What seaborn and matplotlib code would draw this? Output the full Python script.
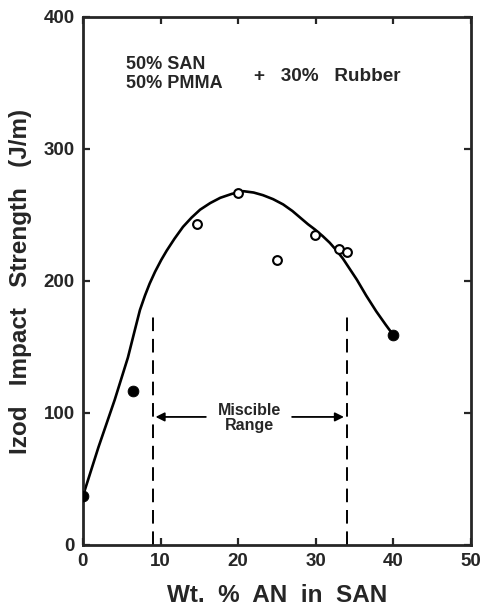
import matplotlib
matplotlib.use("Agg")
import matplotlib.pyplot as plt
import seaborn as sns
import pandas as pd

# Measured points
filled_x = [0, 6.4, 40.0]
filled_y = [37, 117, 159]
open_x = [14.7, 20.0, 25.0, 29.9, 33.0, 34.0]
open_y = [243, 267, 216, 235, 224, 222]

# Fitted curve
curve_x = [0, 2.0, 4.1, 5.8, 6.7, 7.35, 8.0, 8.6, 9.3, 10.1, 10.8, 11.8, 12.9, 14.0, 15.1,
           16.4, 17.7, 19.2, 20.7, 22.0, 23.2, 24.5, 25.8, 27.0, 28.0, 29.0, 29.9,
           30.9, 31.8, 32.7, 33.5, 34.4, 35.3, 36.5, 37.8, 39.0, 40.0]
curve_y = [37, 74, 110, 142, 163, 178, 189, 198, 207, 216, 223, 232, 241, 248, 254,
           259, 263, 266, 268, 267, 265, 262, 258, 253, 248, 243, 239,
           234, 229, 223, 217, 209, 201, 189, 177, 167, 159]

# Miscible range boundaries
misc_bounds = [9, 34]
misc_top = 178
arrow_y = 97

xticks = [0, 10, 20, 30, 40, 50]
yticks = [0, 100, 200, 300, 400]

sns.set_style("ticks")
plt.rcParams['font.family'] = ['Liberation Sans', 'DejaVu Sans']
plt.rcParams['font.weight'] = 'bold'

fig = plt.figure(figsize=(4.82, 6.06), dpi=100)
ax = fig.add_axes([0.172, 0.1007, 0.805, 0.8713])

curve_df = pd.DataFrame({"x": curve_x, "y": curve_y})
sns.lineplot(data=curve_df, x="x", y="y", ax=ax, color="black", linewidth=1.9, sort=False)

fdf = pd.DataFrame({"x": filled_x, "y": filled_y})
sns.scatterplot(data=fdf, x="x", y="y", ax=ax, color="black", s=60, edgecolor="black", zorder=5)
odf = pd.DataFrame({"x": open_x, "y": open_y})
sns.scatterplot(data=odf, x="x", y="y", ax=ax, facecolor="white", edgecolor="black", s=40, linewidth=1.5, zorder=5)

for xb in misc_bounds:
    ax.plot([xb, xb], [0, misc_top], color="black", linewidth=1.4, dashes=(7, 4))

ax.annotate("", xy=(misc_bounds[0], arrow_y), xytext=(16.2, arrow_y),
            arrowprops=dict(arrowstyle="-|>", color="black", lw=1.3, mutation_scale=13))
ax.annotate("", xy=(misc_bounds[1], arrow_y), xytext=(26.6, arrow_y),
            arrowprops=dict(arrowstyle="-|>", color="black", lw=1.3, mutation_scale=13))
ax.text(21.5, 96, "Miscible\nRange", ha="center", va="center", fontsize=11.5, fontweight="bold", linespacing=1.0)

ax.text(5.5, 357, "50% SAN\n50% PMMA", ha="left", va="center", fontsize=13, fontweight="bold", linespacing=1.15)
ax.text(22.1, 355, "+   30%   Rubber", ha="left", va="center", fontsize=13.6, fontweight="bold")

ax.set_xlim(0, 50)
ax.set_ylim(0, 400)
ax.set_xticks(xticks)
ax.set_yticks(yticks)
ax.tick_params(direction="in", length=5, width=1.6, top=True, right=True, labelsize=13.5, pad=6)
for lab in ax.get_xticklabels() + ax.get_yticklabels():
    lab.set_fontweight("bold")
for sp in ax.spines.values():
    sp.set_linewidth(2.0)
    sp.set_visible(True)

ax.set_xlabel("Wt.  %  AN  in  SAN", fontsize=17.5, fontweight="bold", labelpad=10)
ax.set_ylabel("Izod   Impact   Strength   (J/m)", fontsize=17.5, fontweight="bold", labelpad=8)

fig.savefig("out.png", dpi=100)
